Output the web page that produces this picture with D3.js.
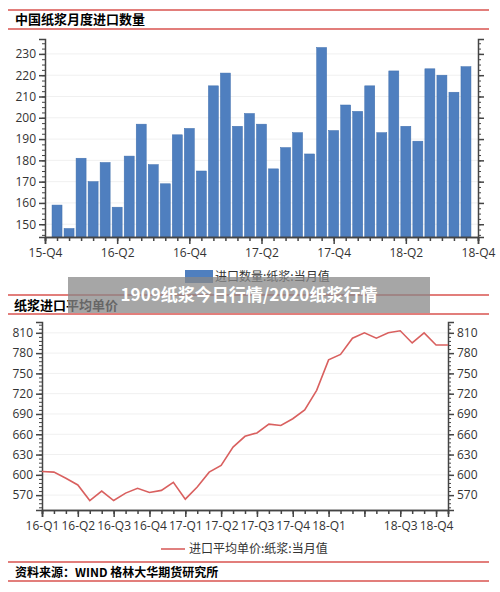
<!DOCTYPE html><html><head><meta charset="utf-8"><script src="https://cdn.jsdelivr.net/npm/d3@7"></script>
<style>body{margin:0;background:#fff}svg{font-family:"Noto Sans CJK SC","DejaVu Sans",sans-serif}</style></head><body><svg id="c" width="500" height="592"></svg><script>
const importVals=[159,148,181,170,179,158,182,197,178,169,192,195,175,215,221,196,202,197,176,186,193,183,233,194,206,203,215,193,222,196,189,223,220,212,224];
const importTicks=["15-Q4","16-Q2","16-Q4","17-Q2","17-Q4","18-Q2","18-Q4"];
const priceVals=[605,604,595,585,562,576,562,573,580,574,577,589,564,582,604,614,641,657,662,675,673,683,696,725,770,778,802,810,802,810,813,795,810,792,792];
const priceTicks=["16-Q1","16-Q2","16-Q3","16-Q4","17-Q1","17-Q2","17-Q3","17-Q4","18-Q1","","18-Q3","18-Q4"];
const svg=d3.select("#c");
const red="#d9534f",blue="#4f7fbf",lred="#d9605f";
function hl(y){svg.append("line").attr("x1",8).attr("x2",489).attr("y1",y).attr("y2",y).attr("stroke",red).attr("stroke-width",1.5);}
[10,29,295,314,562,581].forEach(hl);
svg.append("text").attr("x",15).attr("y",24).text("中国纸浆月度进口数量").attr("font-size",13).attr("font-weight","bold");
svg.append("text").attr("x",14).attr("y",310).text("纸浆进口平均单价").attr("font-size",13).attr("font-weight","bold");
svg.append("text").attr("x",15).attr("y",577).text("资料来源：WIND 格林大华期货研究所").attr("font-size",12).attr("font-weight","bold");
// top chart
const x1=d3.scaleLinear().domain([0,36]).range([45,478]);
const y1=d3.scaleLinear().domain([144,237]).range([237,39]);
const g1=svg.append("g");
g1.selectAll(".gr").data(d3.range(150,231,10)).join("line").attr("x1",45).attr("x2",478).attr("y1",d=>y1(d)).attr("y2",d=>y1(d)).attr("stroke","#f0f0f0");
g1.selectAll("rect").data(importVals).join("rect").attr("x",(d,i)=>x1(i+1)-5).attr("width",10).attr("y",d=>y1(d)).attr("height",d=>y1(144)-y1(d)).attr("fill",blue).attr("stroke","#3f6fae").attr("stroke-width",0.5);
const ax=(g,sc,tv,orient,tx,major,minorLen)=>{};
function yAxis(g,y,x,vals,minor,labels,right){
  const a=(right?d3.axisRight(y):d3.axisLeft(y));
  g.append("g").attr("transform",`translate(${x},0)`).call(a.tickValues(minor).tickSize(3).tickFormat("")).call(s=>s.select(".domain").remove()).selectAll("line").attr("stroke","#444");
  const m=g.append("g").attr("transform",`translate(${x},0)`).call(a.tickValues(vals).tickSize(6).tickFormat(labels?d3.format("d"):"")).attr("font-size",12).attr("font-family","Open Sans, DejaVu Sans");
  m.selectAll("line,path").attr("stroke","#444").attr("stroke-width",1.5);m.selectAll("text").attr("fill","#333");
}
function xAxis(g,x,y,majorIdx,labels,minorIdx){
  g.append("g").attr("transform",`translate(0,${y})`).call(d3.axisBottom(x).tickValues(minorIdx).tickSize(4).tickFormat("")).selectAll("line,path").attr("stroke","#444").attr("stroke-width",1.5);
  const m=g.append("g").attr("transform",`translate(0,${y})`).call(d3.axisBottom(x).tickValues(majorIdx).tickSize(7).tickFormat((d,i)=>labels[i]).tickPadding(4)).attr("font-size",12).attr("font-family","Open Sans, DejaVu Sans");
  m.selectAll("line,path").attr("stroke","#444").attr("stroke-width",1.5);m.selectAll("text").attr("fill","#333");
}
yAxis(g1,y1,45,d3.range(150,231,10),d3.range(145,237,2.5),true,false);
yAxis(g1,y1,478,d3.range(150,231,10),d3.range(145,237,2.5),false,true);
xAxis(g1,x1,237,d3.range(0,37,6),importTicks,d3.range(0,37,1));
g1.selectAll(".domain").attr("stroke","#444");
svg.append("rect").attr("x",185).attr("y",270).attr("width",28).attr("height",13).attr("fill",blue);
svg.append("text").attr("x",215).attr("y",281).text("进口数量:纸浆:当月值").attr("font-size",12).attr("fill","#333");
// bottom chart
const x2=d3.scaleLinear().domain([0,34]).range([42,448]);
const y2=d3.scaleLinear().domain([548,826]).range([510,322]);
const g2=svg.append("g");
g2.selectAll(".gr").data(d3.range(570,811,30)).join("line").attr("x1",42).attr("x2",448).attr("y1",d=>y2(d)).attr("y2",d=>y2(d)).attr("stroke","#f0f0f0");
yAxis(g2,y2,42,d3.range(570,811,30),d3.range(552,826,6),true,false);
yAxis(g2,y2,448,d3.range(570,811,30),d3.range(552,826,6),true,true);
xAxis(g2,x2,510,d3.range(0,34,3),priceTicks,d3.range(0,35,1));
g2.append("path").datum(priceVals).attr("d",d3.line().x((d,i)=>x2(i)).y(d=>y2(d))).attr("fill","none").attr("stroke",lred).attr("stroke-width",1.6);
svg.append("line").attr("x1",161).attr("x2",185).attr("y1",549).attr("y2",549).attr("stroke",lred).attr("stroke-width",1.6);
svg.append("text").attr("x",189).attr("y",553).text("进口平均单价:纸浆:当月值").attr("font-size",12).attr("fill","#333");
// banner overlay
svg.append("rect").attr("x",68).attr("y",277).attr("width",362).attr("height",36).attr("fill","#888").attr("opacity",0.75);
svg.append("text").attr("x",249).attr("y",301).attr("text-anchor","middle").text("1909纸浆今日行情/2020纸浆行情").attr("font-size",17).attr("font-weight","bold").attr("fill","#fff");
</script></body></html>
